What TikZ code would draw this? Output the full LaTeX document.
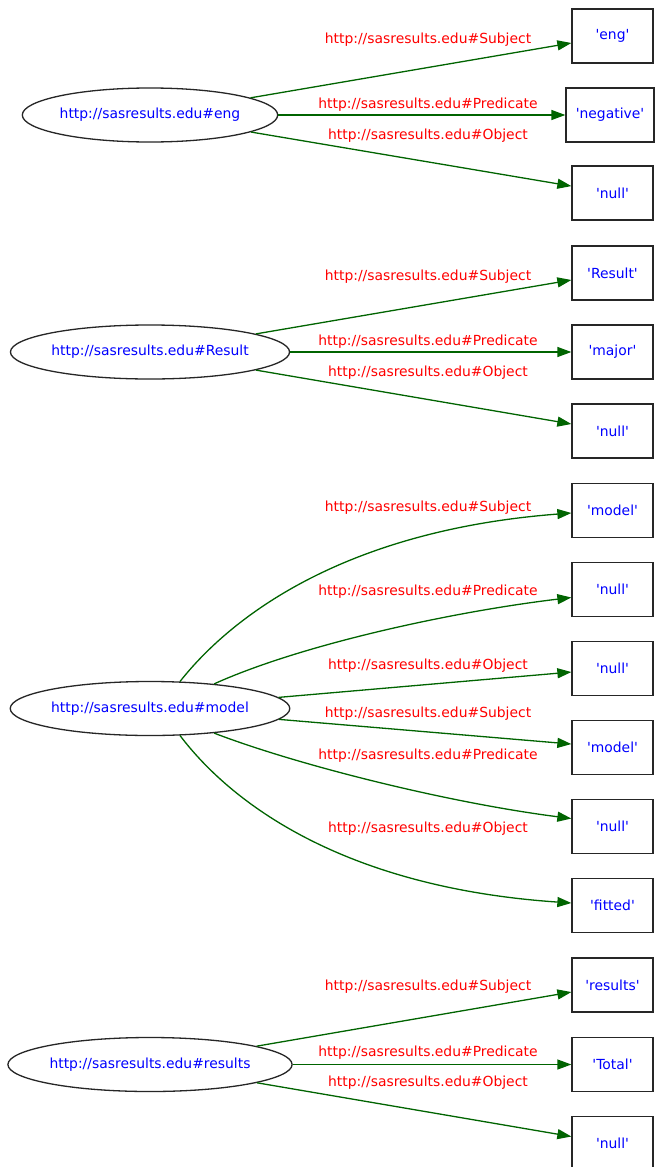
\documentclass[tikz,border=0pt]{standalone}
\usepackage{fontspec}
\setmainfont{DejaVu Sans}[Ligatures=TeXOff]
\usetikzlibrary{shapes.geometric,arrows.meta}
\definecolor{edgegreen}{HTML}{006400}
\definecolor{labred}{HTML}{FF0000}
\definecolor{txtblue}{HTML}{0000FF}
\begin{document}
\begin{tikzpicture}[x=1pt,y=-1pt,
  font=\fontsize{13.9}{16}\selectfont,
  res/.style={ellipse,draw=black!85,line width=1.3pt,text=txtblue,inner sep=0pt,minimum height=54pt},
  lit/.style={rectangle,draw=black!85,line width=1.3pt,text=txtblue,inner sep=0pt,minimum width=81pt,minimum height=54pt},
  lab/.style={text=labred,inner sep=0pt},
  rel/.style={draw=edgegreen,line width=1.3pt,-{Triangle[length=14pt,width=10pt]}}]
\useasboundingbox[fill=white] (0,0) rectangle (654,1167);

% group 1
\node[res,minimum width=254pt] (e1) at (150,115) {http://sasresults.edu\#eng};
\node[lit] (b11) at (612.5,36) {'eng'};
\node[lit,minimum width=88pt] (b12) at (610,115) {'negative'};
\node[lit] (b13) at (612.5,193) {'null'};
\node[lab] (l11) at (428,40) {http://sasresults.edu\#Subject};
\node[lab] (l12) at (428,105) {http://sasresults.edu\#Predicate};
\node[lab] (l13) at (428,136) {http://sasresults.edu\#Object};
\draw[rel] (e1) -- (b11);
\draw[rel] (e1) -- (b12);
\draw[rel] (e1) -- (b13);

% group 2
\node[res,minimum width=273pt] (e2) at (150,352) {http://sasresults.edu\#Result};
\node[lit] (b21) at (612.5,273) {'Result'};
\node[lit] (b22) at (612.5,352) {'major'};
\node[lit] (b23) at (612.5,431) {'null'};
\node[lab] (l21) at (428,277) {http://sasresults.edu\#Subject};
\node[lab] (l22) at (428,342) {http://sasresults.edu\#Predicate};
\node[lab] (l23) at (428,373) {http://sasresults.edu\#Object};
\draw[rel] (e2) -- (b21);
\draw[rel] (e2) -- (b22);
\draw[rel] (e2) -- (b23);

% group 3
\node[res,minimum width=275pt] (e3) at (150,708.5) {http://sasresults.edu\#model};
\node[lit] (b31) at (612.5,510.5) {'model'};
\node[lit] (b32) at (612.5,589.5) {'null'};
\node[lit] (b33) at (612.5,668.5) {'null'};
\node[lit] (b34) at (612.5,747.5) {'model'};
\node[lit] (b35) at (612.5,826.5) {'null'};
\node[lit] (b36) at (612.5,905.5) {'fitted'};
\node[lab] (l31) at (428,508) {http://sasresults.edu\#Subject};
\node[lab] (l32) at (428,592) {http://sasresults.edu\#Predicate};
\node[lab] (l33) at (428,666) {http://sasresults.edu\#Object};
\node[lab] (l34) at (428,714) {http://sasresults.edu\#Subject};
\node[lab] (l35) at (428,756) {http://sasresults.edu\#Predicate};
\node[lab] (l36) at (428,829) {http://sasresults.edu\#Object};
\draw[rel] (e3.42) .. controls (235,612) and (350,530) .. ([yshift=-2.5pt]b31.west);
\draw[rel] (e3.21) .. controls (300,645) and (450,612) .. ([yshift=-8pt]b32.west);
\draw[rel] (e3) -- (b33);
\draw[rel] (e3) -- (b34);
\draw[rel] (e3.-21) .. controls (300,766) and (450,803) .. ([yshift=8pt]b35.west);
\draw[rel] (e3.-42) .. controls (235,808) and (350,888) .. ([yshift=2.5pt]b36.west);

% group 4
\node[res,minimum width=283pt] (e4) at (150,1064.5) {http://sasresults.edu\#results};
\node[lit] (b41) at (612.5,985) {'results'};
\node[lit] (b42) at (612.5,1064.5) {'Total'};
\node[lit] (b43) at (612.5,1143.5) {'null'};
\node[lab] (l41) at (428,987) {http://sasresults.edu\#Subject};
\node[lab] (l42) at (428,1053) {http://sasresults.edu\#Predicate};
\node[lab] (l43) at (428,1083) {http://sasresults.edu\#Object};
\draw[rel] (e4) -- (b41);
\draw[rel] (e4) -- (b42);
\draw[rel] (e4) -- (b43);
\end{tikzpicture}
\end{document}
